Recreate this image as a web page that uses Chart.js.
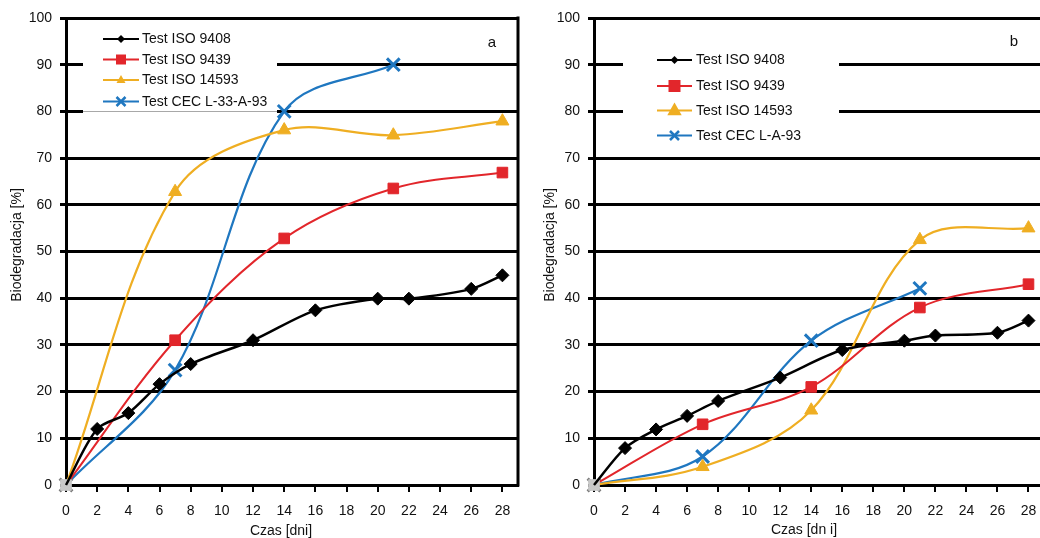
<!DOCTYPE html>
<html>
<head>
<meta charset="utf-8">
<script src="https://cdn.jsdelivr.net/npm/chart.js@4/dist/chart.umd.min.js"></script>
<style>
  html, body { margin: 0; padding: 0; background: #fff; overflow: hidden; width: 1040px; height: 538px; }
  canvas { position: absolute; top: 0; }
  #chartA { left: 0; }
  #chartB { left: 520px; }
</style>
</head>
<body>
<canvas id="chartA" width="530" height="538"></canvas>
<canvas id="chartB" width="536" height="538"></canvas>
<script>
// dni pomiarow
const days9408 = [0, 2, 4, 6, 8, 12, 16, 20, 22, 26, 28];
const daysWeekly = [0, 7, 14, 21, 28];
const daysCec = [0, 7, 14, 21];

// wykres a
const aIso9408 = [0, 12, 15.4, 21.6, 25.9, 31, 37.4, 39.9, 39.9, 42, 44.9];
const aIso9439 = [0, 31, 52.8, 63.5, 66.9];
const aIso14593 = [0, 62.8, 76, 74.9, 77.9];
const aCec = [0, 24.6, 80, 90];

// wykres b
const bIso9408 = [0, 7.9, 11.9, 14.8, 18, 23, 28.9, 30.9, 32, 32.6, 35.2];
const bIso9439 = [0, 13, 21, 38, 43];
const bIso14593 = [0, 3.9, 16, 52.5, 55];
const bCec = [0, 6.1, 30.9, 42.1];

const seriesNamesA = ['Test ISO 9408', 'Test ISO 9439', 'Test ISO 14593', 'Test CEC L-33-A-93'];
const seriesNamesB = ['Test ISO 9408', 'Test ISO 9439', 'Test ISO 14593', 'Test CEC L-A-93'];
const xTicks = [0, 2, 4, 6, 8, 10, 12, 14, 16, 18, 20, 22, 24, 26, 28];
const yTicks = [0, 10, 20, 30, 40, 50, 60, 70, 80, 90, 100];

const BLACK = '#000000';
const RED = '#e2262b';
const ORANGE = '#efae22';
const BLUE = '#1f77c0';
const FONT = "'Liberation Sans', Arial, sans-serif";

function pts(xs, ys) {
    return xs.map((x, i) => ({ x: x, y: ys[i] }));
}

function buildDatasets(d9408, d9439, d14593, dCec, names) {
    return [
        {
            label: names[0], data: pts(days9408, d9408),
            borderColor: BLACK, borderWidth: 2.5, tension: 0.3,
            pointStyle: 'rectRot', pointRadius: c => c.dataIndex === 0 ? 0 : 6.5,
            pointBackgroundColor: BLACK, pointBorderColor: BLACK, pointBorderWidth: 1
        },
        {
            label: names[1], data: pts(daysWeekly, d9439),
            borderColor: RED, borderWidth: 2, tension: 0.35,
            pointStyle: 'rect', pointRadius: 7.5,
            pointBackgroundColor: c => c.dataIndex === 0 ? '#c8c8c8' : RED,
            pointBorderColor: c => c.dataIndex === 0 ? '#c8c8c8' : RED, pointBorderWidth: 1
        },
        {
            label: names[2], data: pts(daysWeekly, d14593),
            borderColor: ORANGE, borderWidth: 2.2, tension: 0.35,
            pointStyle: 'triangle', pointRadius: c => c.dataIndex === 0 ? 0 : 7.5,
            pointBackgroundColor: ORANGE, pointBorderColor: ORANGE, pointBorderWidth: 1
        },
        {
            label: names[3], data: pts(daysCec, dCec),
            borderColor: BLUE, borderWidth: 2.2, tension: 0.35,
            pointStyle: 'crossRot', pointRadius: 9,
            pointBorderColor: c => c.dataIndex === 0 ? '#7a7a7a' : BLUE, pointBorderWidth: 3
        }
    ];
}

function drawMarker(ctx, style, x, y, r, color) {
    ctx.save();
    ctx.fillStyle = color;
    ctx.strokeStyle = color;
    ctx.beginPath();
    if (style === 'diamond') {
        ctx.moveTo(x, y - r); ctx.lineTo(x + r, y); ctx.lineTo(x, y + r); ctx.lineTo(x - r, y);
        ctx.closePath(); ctx.fill();
    } else if (style === 'square') {
        ctx.rect(x - r, y - r, 2 * r, 2 * r); ctx.fill();
    } else if (style === 'triangle') {
        ctx.moveTo(x, y - r); ctx.lineTo(x + r * 0.9, y + r * 0.6); ctx.lineTo(x - r * 0.9, y + r * 0.6);
        ctx.closePath(); ctx.fill();
    } else {
        ctx.lineWidth = 2.5;
        ctx.moveTo(x - r, y - r); ctx.lineTo(x + r, y + r);
        ctx.moveTo(x + r, y - r); ctx.lineTo(x - r, y + r);
        ctx.stroke();
    }
    ctx.restore();
}

// legenda, tytuly osi i litera panelu
function panelPlugin(cfg) {
    return {
        id: 'panelExtras',
        beforeDatasetsDraw(chart) {
            const ctx = chart.ctx;
            const area = chart.chartArea;
            ctx.save();
            ctx.strokeStyle = BLACK;
            ctx.lineWidth = 3;
            ctx.beginPath();
            ctx.moveTo(area.right, area.top - 1.5);
            ctx.lineTo(area.right, area.bottom + 1.5);
            ctx.stroke();
            ctx.fillStyle = '#fff';
            ctx.fillRect(cfg.box[0], cfg.box[1], cfg.box[2], cfg.box[3]);
            if (cfg.grayLine) {
                ctx.strokeStyle = '#a8a8a8';
                ctx.lineWidth = 1;
                ctx.beginPath();
                ctx.moveTo(cfg.box[0], cfg.grayLine);
                ctx.lineTo(cfg.box[0] + cfg.box[2], cfg.grayLine);
                ctx.stroke();
            }
            ctx.restore();
        },
        afterDraw(chart) {
            const ctx = chart.ctx;
            ctx.save();
            const colors = [BLACK, RED, ORANGE, BLUE];
            const styles = ['diamond', 'square', 'triangle', 'cross'];
            cfg.rows.forEach((y, i) => {
                ctx.strokeStyle = colors[i];
                ctx.lineWidth = cfg.lineWidth;
                ctx.beginPath();
                ctx.moveTo(cfg.lineX[0], y);
                ctx.lineTo(cfg.lineX[1], y);
                ctx.stroke();
                drawMarker(ctx, styles[i], (cfg.lineX[0] + cfg.lineX[1]) / 2, y, cfg.markerR[i], colors[i]);
                ctx.fillStyle = '#111';
                ctx.font = '14px ' + FONT;
                ctx.textAlign = 'left';
                ctx.textBaseline = 'middle';
                ctx.fillText(cfg.names[i], cfg.textX, y + 0.5);
            });

            ctx.fillStyle = '#111';
            ctx.font = '15px ' + FONT;
            ctx.textAlign = 'center';
            ctx.textBaseline = 'middle';
            ctx.fillText(cfg.letter[0], cfg.letter[1], cfg.letter[2]);

            ctx.font = '14px ' + FONT;
            ctx.fillText(cfg.xTitle[0], cfg.xTitle[1], cfg.xTitle[2]);

            ctx.translate(cfg.yTitle[1], cfg.yTitle[2]);
            ctx.rotate(-Math.PI / 2);
            ctx.fillText(cfg.yTitle[0], 0, 0);
            ctx.restore();
        }
    };
}

function makeChart(canvasId, datasets, yWidth, extras) {
    const ctx = document.getElementById(canvasId).getContext('2d');
    return new Chart(ctx, {
        type: 'line',
        data: { datasets: datasets.map(d => Object.assign({ fill: false, clip: false }, d)) },
        options: {
            responsive: false,
            animation: false,
            layout: { padding: { left: 0, right: 0, top: 18, bottom: 0 } },
            plugins: { legend: { display: false }, tooltip: { enabled: false } },
            scales: {
                x: {
                    type: 'linear', min: 0, max: 29,
                    afterBuildTicks: s => { s.ticks = xTicks.map(v => ({ value: v })); },
                    afterFit: s => { s.height = 53; s.paddingLeft = 0; s.paddingRight = 0; },
                    grid: { drawOnChartArea: false, drawTicks: true, tickLength: 7, color: BLACK, lineWidth: 2 },
                    border: { display: true, color: BLACK, width: 3 },
                    ticks: { color: '#111', font: { family: FONT, size: 14 }, padding: 11, maxRotation: 0 }
                },
                y: {
                    type: 'linear', min: 0, max: 100,
                    afterBuildTicks: s => { s.ticks = yTicks.map(v => ({ value: v })); },
                    afterFit: s => { s.width = yWidth; },
                    grid: { color: BLACK, lineWidth: 3, drawTicks: true, tickLength: 6 },
                    border: { display: true, color: BLACK, width: 3 },
                    ticks: { color: '#111', font: { family: FONT, size: 14 }, padding: 8 }
                }
            }
        },
        plugins: [panelPlugin(extras)]
    });
}

makeChart('chartA', buildDatasets(aIso9408, aIso9439, aIso14593, aCec, seriesNamesA), 66, {
    box: [83, 28, 194, 85], grayLine: 111.5,
    rows: [39, 59.5, 80, 101.5], lineX: [103, 139], textX: 142, lineWidth: 1.8,
    markerR: [4, 5, 5, 4.5], names: seriesNamesA,
    letter: ['a', 492, 43], xTitle: ['Czas [dni]', 281, 531], yTitle: ['Biodegradacja [%]', 17, 245]
});

makeChart('chartB', buildDatasets(bIso9408, bIso9439, bIso14593, bCec, seriesNamesB), 74, {
    box: [103, 30, 216, 122], grayLine: null,
    rows: [60, 86, 110.5, 135.5], lineX: [137, 172], textX: 176, lineWidth: 2.2,
    markerR: [4, 6, 8, 4.5], names: seriesNamesB,
    letter: ['b', 494, 42], xTitle: ['Czas [dn i]', 284, 530], yTitle: ['Biodegradacja [%]', 30, 245]
});
</script>
</body>
</html>
